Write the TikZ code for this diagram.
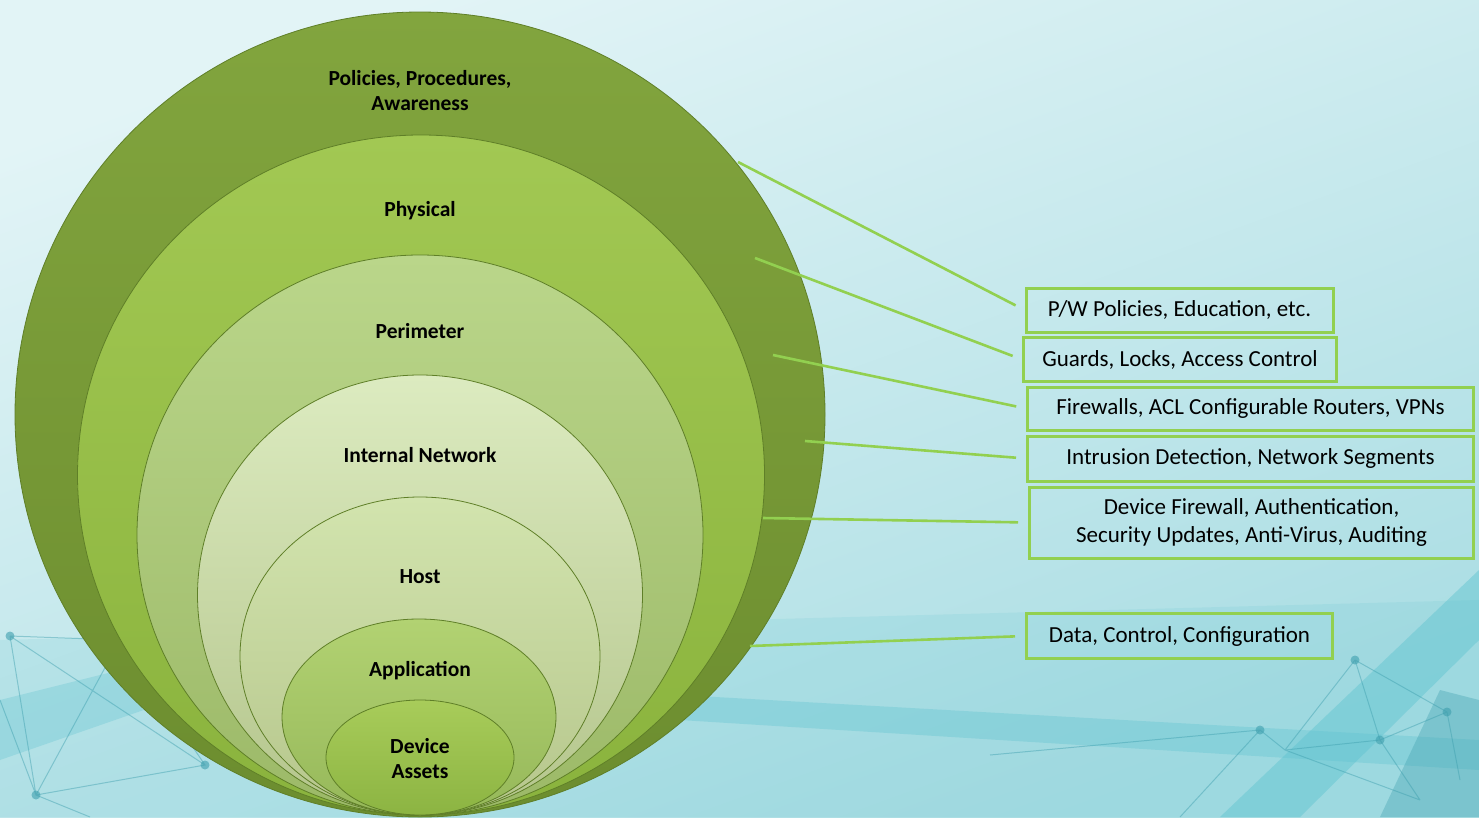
\documentclass[tikz,border=0pt]{standalone}
\usepackage{fontspec}
\setmainfont{Carlito}
\usetikzlibrary{shapes.geometric,calc}
\definecolor{bgA}{HTML}{E2F4F6}
\definecolor{bgB}{HTML}{A9DDE3}
\definecolor{teal1}{HTML}{5EC3CF}
\definecolor{teal2}{HTML}{3E9FAE}
\definecolor{lgreen}{HTML}{92D050}
\definecolor{edgeg}{HTML}{5F7F28}
\definecolor{c1t}{HTML}{82A53E}\definecolor{c1b}{HTML}{6C8D2F}
\definecolor{c2t}{HTML}{A2C853}\definecolor{c2b}{HTML}{8AB33D}
\definecolor{c3t}{HTML}{BAD68A}\definecolor{c3b}{HTML}{9CB968}
\definecolor{c4t}{HTML}{DCEBC0}\definecolor{c4b}{HTML}{B4C58C}
\definecolor{c5t}{HTML}{D2E4AE}\definecolor{c5b}{HTML}{B6C68C}
\definecolor{c6t}{HTML}{B2D272}\definecolor{c6b}{HTML}{96B85A}
\definecolor{c7t}{HTML}{A8CC5A}\definecolor{c7b}{HTML}{8CB442}
\tikzset{
  ring/.style={ellipse, inner sep=0pt, draw=edgeg, line width=0.8pt},
  lab/.style={font=\fontsize{21.5}{25}\selectfont\bfseries, align=center, text=black},
  infobox/.style={draw=lgreen, line width=3pt, inner sep=0pt, font=\fontsize{23}{28}\selectfont, align=center, text=black},
  conn/.style={draw=lgreen, line width=2.6pt, shorten >=10pt},
  net/.style={draw=teal2, opacity=0.45, line width=1pt},
  dot/.style={circle, fill=teal2, opacity=0.6, inner sep=0pt, minimum size=9pt}
}
\begin{document}
\begin{tikzpicture}[x=1pt,y=-1pt]
\useasboundingbox (0,0) rectangle (1479,817);
\begin{scope}
\clip (0,0) rectangle (1479,817);
% background
\shade[top color=bgA, bottom color=bgB, shading angle=20] (0,0) rectangle (1479,817);
\fill[teal1, opacity=0.15] (0,640) -- (1479,600) -- (1479,817) -- (0,817) -- cycle;
\fill[teal1, opacity=0.35] (680,695) -- (1479,740) -- (1479,770) -- (680,720) -- cycle;
\fill[teal1, opacity=0.45] (1479,570) -- (1479,640) -- (1300,817) -- (1220,817) -- cycle;
\fill[teal2, opacity=0.35] (1380,817) -- (1440,690) -- (1479,700) -- (1479,817) -- cycle;
\fill[teal1, opacity=0.3] (0,700) -- (200,650) -- (230,680) -- (0,760) -- cycle;
% network lines right
\coordinate (n1) at (1355,660); \coordinate (n2) at (1260,730); \coordinate (n3) at (1447,712);
\coordinate (n4) at (1285,750); \coordinate (n5) at (1380,740); \coordinate (n6) at (1460,780);
\coordinate (n7) at (1180,817); \coordinate (n8) at (990,755); \coordinate (n9) at (1420,800);
\draw[net] (n1) -- (n3) -- (n6) (n1) -- (n5) -- (n4) -- (n2) -- (n8) (n2) -- (n7) (n1) -- (n4) (n5) -- (n9) (n3) -- (n5) (n4) -- (n9);
\foreach \p in {n1,n2,n3,n5} \node[dot] at (\p) {};
% network lines left
\coordinate (m1) at (10,636); \coordinate (m2) at (36,795); \coordinate (m3) at (205,765);
\coordinate (m4) at (0,700); \coordinate (m5) at (120,640); \coordinate (m6) at (90,817);
\draw[net] (m1) -- (m2) -- (m3) -- (m5) -- (m1) (m1) -- (m3) (m4) -- (m2) (m2) -- (m6) (m5) -- (m2);
\foreach \p in {m1,m2,m3} \node[dot] at (\p) {};
% rings
\node[ring, top color=c1t, bottom color=c1b, minimum width=810pt, minimum height=805pt] (r1) at (420,414.5) {};
\node[ring, top color=c2t, bottom color=c2b, minimum width=687pt, minimum height=680pt] (r2) at (421,475) {};
\node[ring, top color=c3t, bottom color=c3b, minimum width=566pt, minimum height=560pt] (r3) at (420,535) {};
\node[ring, top color=c4t, bottom color=c4b, minimum width=445pt, minimum height=440pt] (r4) at (420,595) {};
\node[ring, top color=c5t, bottom color=c5b, minimum width=360pt, minimum height=318pt] (r5) at (420,656) {};
\node[ring, top color=c6t, bottom color=c6b, minimum width=274pt, minimum height=196pt] (r6) at (419,717) {};
\node[ring, top color=c7t, bottom color=c7b, minimum width=188pt, minimum height=115pt] (r7) at (420,757.5) {};
\end{scope}
% ring labels
\node[lab] (l1) at (420,91) {Policies, Procedures,\\Awareness};
\node[lab] (l2) at (420,211) {Physical};
\node[lab] (l3) at (420,331) {Perimeter};
\node[lab] (l4) at (420,455) {Internal Network};
\node[lab] (l5) at (420,577) {Host};
\node[lab] (l6) at (420,671) {Application};
\node[lab] (l7) at (420,759) {Device\\Assets};
% info boxes
\node[infobox, minimum width=307pt, minimum height=44pt] (b1) at (1179.5,310) {P/W Policies, Education, etc.};
\node[infobox, minimum width=313pt, minimum height=44pt] (b2) at (1180,359.5) {Guards, Locks, Access Control};
\node[infobox, minimum width=446pt, minimum height=43pt] (b3) at (1250.5,408.5) {Firewalls, ACL Configurable Routers, VPNs};
\node[infobox, minimum width=446pt, minimum height=45pt] (b4) at (1250.5,458.5) {Intrusion Detection, Network Segments};
\node[infobox, minimum width=444pt, minimum height=71pt] (b5) at (1251.5,522.5) {Device Firewall, Authentication,\\Security Updates, Anti-Virus, Auditing};
\node[infobox, minimum width=306pt, minimum height=45pt] (b6) at (1179.5,636) {Data, Control, Configuration};
% connector start points
\coordinate (s1) at (738,162);
\coordinate (s2) at (755,258);
\coordinate (s3) at (773,355);
\coordinate (s4) at (805,441);
\coordinate (s5) at (763,518);
\coordinate (s6) at (750,646);
\draw[conn] (s1) -- (b1.west);
\draw[conn] (s2) -- (b2.west);
\draw[conn] (s3) -- (b3.west);
\draw[conn] (s4) -- (b4.west);
\draw[conn] (s5) -- (b5.west);
\draw[conn] (s6) -- (b6.west);
\end{tikzpicture}
\end{document}
